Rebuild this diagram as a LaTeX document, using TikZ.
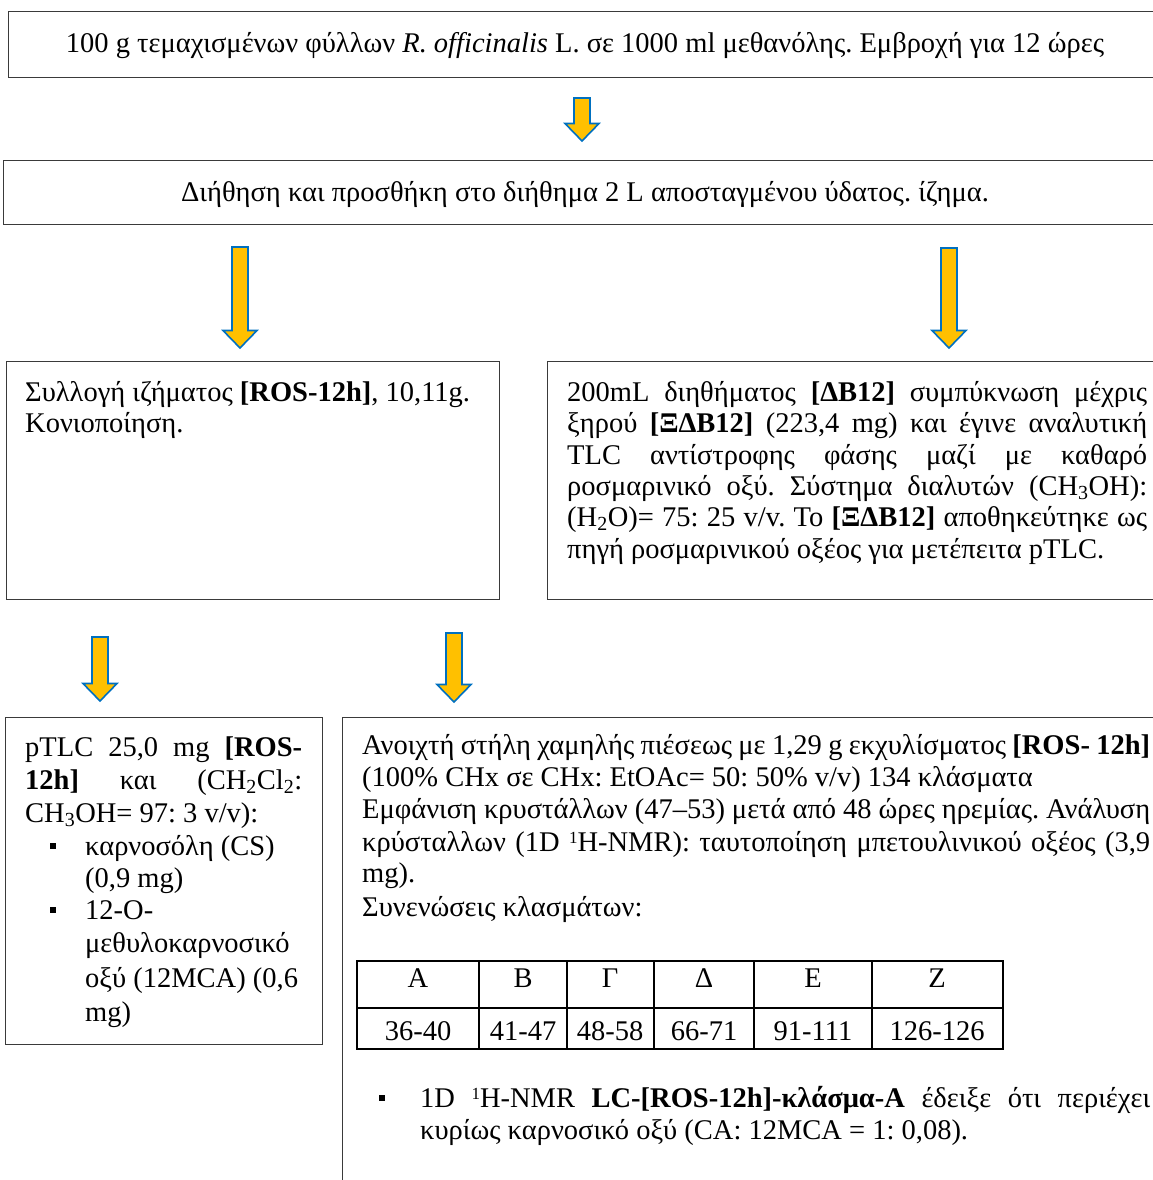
\documentclass[tikz,border=0pt]{standalone}
\usepackage{fontspec}
\setmainfont{Liberation Serif}
\usetikzlibrary{calc}
\definecolor{arrfill}{HTML}{FFC000}
\definecolor{arrline}{HTML}{0070C0}
\definecolor{boxline}{HTML}{3A3A3A}
\newcommand\fs{\fontsize{28.5}{33}\selectfont\frenchspacing}
\newcommand\jl[2]{\makebox[#1pt][s]{#2}}
\newcommand\supone{\raisebox{0.55ex}{\fontsize{17}{17}\selectfont 1}}
\newcommand\blockarr[2]{\draw[barrow] let \p1=(#1), \p2=(#2) in
  ({\x1-8pt},{\y1}) -- ({\x1+8pt},{\y1}) -- ({\x1+8pt},{\y2+17.5pt}) -- ({\x1+17pt},{\y2+17.5pt})
  -- ({\x2},{\y2}) -- ({\x1-17pt},{\y2+17.5pt}) -- ({\x1-8pt},{\y2+17.5pt}) -- cycle;}
\tikzset{
  box/.style={draw=boxline, line width=1.3pt, inner sep=0pt, anchor=north west},
  txt/.style={anchor=base west, inner sep=0pt, font=\fs},
  ctxt/.style={anchor=base, inner sep=0pt, font=\fs},
  barrow/.style={fill=arrfill, draw=arrline, line width=1.6pt, line join=miter},
  tline/.style={draw=black, line width=1.5pt},
  bul/.style={fill=black, inner sep=0pt, minimum size=6.5pt, draw=none},
}
\begin{document}
\begin{tikzpicture}[x=1pt,y=-1pt]
\useasboundingbox (0,0) rectangle (1153,1180);
\clip (0,0) rectangle (1153,1180);
% boxes
\node[box, minimum width=1160pt, minimum height=66pt] (b1) at (8,11) {};
\node[box, minimum width=1165pt, minimum height=64pt] (b2) at (3,160) {};
\node[box, minimum width=493pt, minimum height=238pt] (b3) at (6,361) {};
\node[box, minimum width=620pt, minimum height=238pt] (b4) at (547,361) {};
\node[box, minimum width=317pt, minimum height=327pt] (b5) at (5,717) {};
\node[box, minimum width=830pt, minimum height=500pt] (b6) at (342,717) {};
% texts
\node[ctxt] (t1) at (585,53) {100 g τεμαχισμένων φύλλων \textit{R. officinalis} L. σε 1000 ml μεθανόλης. Εμβροχή για 12 ώρες};
\node[ctxt] (t2) at (585,201) {Διήθηση και προσθήκη στο διήθημα 2 L αποσταγμένου ύδατος. ίζημα.};
\node[txt] (t3a) at (25,401) {Συλλογή ιζήματος \textbf{[ROS-12h]}, 10,11g.};
\node[txt] (t3b) at (25,432) {Κονιοποίηση.};
\node[txt] (t4a) at (567,401) {\jl{580}{200mL διηθήματος \textbf{[ΔΒ12]} συμπύκνωση μέχρις}};
\node[txt] (t4b) at (567,432) {\jl{580}{ξηρού \textbf{[ΞΔΒ12]} (223,4 mg) και έγινε αναλυτική}};
\node[txt] (t4c) at (567,464) {\jl{580}{TLC αντίστροφης φάσης μαζί με καθαρό}};
\node[txt] (t4d) at (567,495) {\jl{580}{ροσμαρινικό οξύ. Σύστημα διαλυτών (CH\textsubscript{3}OH):}};
\node[txt] (t4e) at (567,526) {\jl{580}{(H\textsubscript{2}O)= 75: 25 v/v. Το \textbf{[ΞΔΒ12]} αποθηκεύτηκε ως}};
\node[txt] (t4f) at (567,558) {πηγή ροσμαρινικού οξέος για μετέπειτα pTLC.};
% box 5
\node[txt] (t5a) at (25,756) {\jl{277}{pTLC 25,0 mg \textbf{[ROS-}}};
\node[txt] (t5b) at (25,789) {\jl{277}{\textbf{12h]} και (CH\textsubscript{2}Cl\textsubscript{2}:}};
\node[txt] (t5c) at (25,822) {CH\textsubscript{3}OH= 97: 3 v/v):};
\node[bul] (k1) at (53,846) {};
\node[txt] (t5d) at (85,855) {καρνοσόλη (CS)};
\node[txt] (t5e) at (85,887) {(0,9 mg)};
\node[bul] (k2) at (53,910) {};
\node[txt] (t5f) at (85,919) {12-O-};
\node[txt] (t5g) at (85,952) {μεθυλοκαρνοσικό};
\node[txt] (t5h) at (85,987) {οξύ (12MCA) (0,6};
\node[txt] (t5i) at (85,1021) {mg)};
% box 6
\node[txt] (t6a) at (362,754) {\jl{788}{Ανοιχτή στήλη χαμηλής πιέσεως με 1,29 g εκχυλίσματος \textbf{[ROS- 12h]}}};
\node[txt] (t6b) at (362,786) {(100\% CHx σε CHx: EtOAc= 50: 50\% v/v) 134 κλάσματα};
\node[txt] (t6c) at (362,818) {\jl{788}{Εμφάνιση κρυστάλλων (47–53) μετά από 48 ώρες ηρεμίας. Ανάλυση}};
\node[txt] (t6d) at (362,851) {\jl{788}{κρύσταλλων (1D \supone H-NMR): ταυτοποίηση μπετουλινικού οξέος (3,9}};
\node[txt] (t6e) at (362,882) {mg).};
\node[txt] (t6f) at (362,916) {Συνενώσεις κλασμάτων:};
% table
\draw[tline] (357,961) rectangle (1003,1049);
\draw[tline] (357,1008) -- (1003,1008);
\foreach \cx in {479,567,654,754,872} \draw[tline] (\cx,961) -- (\cx,1049);
\node[ctxt] (h1) at (418,987) {Α};
\node[ctxt] (h2) at (523,987) {Β};
\node[ctxt] (h3) at (610,987) {Γ};
\node[ctxt] (h4) at (704,987) {Δ};
\node[ctxt] (h5) at (813,987) {Ε};
\node[ctxt] (h6) at (937,987) {Ζ};
\node[ctxt] (v1) at (418,1040) {36-40};
\node[ctxt] (v2) at (523,1040) {41-47};
\node[ctxt] (v3) at (610,1040) {48-58};
\node[ctxt] (v4) at (704,1040) {66-71};
\node[ctxt] (v5) at (813,1040) {91-111};
\node[ctxt] (v6) at (937,1040) {126-126};
\node[bul] (k3) at (382,1098) {};
\node[txt] (t6g) at (420,1107) {\jl{730}{1D \supone H-NMR \textbf{LC-[ROS-12h]-κλάσμα-Α} έδειξε ότι περιέχει}};
\node[txt] (t6h) at (420,1139) {κυρίως καρνοσικό οξύ (CA: 12MCA = 1: 0,08).};
% arrows
\coordinate (a1s) at (582,98);  \coordinate (a1e) at (582,141);
\coordinate (a2s) at (240,247); \coordinate (a2e) at (240,348);
\coordinate (a3s) at (949,248); \coordinate (a3e) at (949,348);
\coordinate (a4s) at (100,637); \coordinate (a4e) at (100,701);
\coordinate (a5s) at (454,633); \coordinate (a5e) at (454,702);
\blockarr{a1s}{a1e}
\blockarr{a2s}{a2e}
\blockarr{a3s}{a3e}
\blockarr{a4s}{a4e}
\blockarr{a5s}{a5e}
\end{tikzpicture}
\end{document}
